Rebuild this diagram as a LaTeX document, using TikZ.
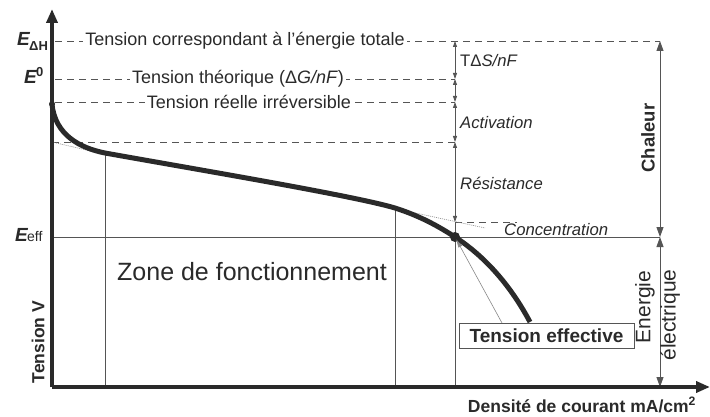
\documentclass[tikz,border=0pt]{standalone}
\usepackage{fontspec}
\setmainfont{Liberation Sans}
\usetikzlibrary{arrows.meta}
\definecolor{ink}{HTML}{2A2A2A}
\definecolor{lin}{HTML}{555555}
\definecolor{dotg}{HTML}{888888}
\begin{document}
\begin{tikzpicture}[x=1pt,y=-1pt,
  axisline/.style={line width=3.8pt, draw=ink, -{Triangle[length=14pt,width=11pt]}},
  dashline/.style={draw=lin, line width=0.9pt, dash pattern=on 7pt off 5pt},
  thinline/.style={draw=lin, line width=0.8pt},
  tangent/.style={draw=dotg, line width=0.6pt, dash pattern=on 1pt off 1pt},
  dimarrow/.style={draw=lin, line width=0.8pt, {Triangle[length=6pt,width=4pt]}-{Triangle[length=6pt,width=4pt]}},
  bigarrow/.style={draw=lin, line width=0.9pt, {Triangle[length=10pt,width=7pt]}-{Triangle[length=10pt,width=7pt]}},
  curveline/.style={draw=ink, line width=5pt},
  lbl/.style={text=ink, font=\fontsize{18}{20}\selectfont, fill=white, inner sep=2pt},
  ital/.style={text=ink, font=\fontsize{16.7}{19}\selectfont\itshape, inner sep=0pt, anchor=west},
  boldlbl/.style={text=ink, font=\fontsize{17.5}{20}\selectfont\bfseries, inner sep=0pt},
  elbl/.style={text=ink, font=\fontsize{19}{20}\selectfont\bfseries\itshape, inner sep=0pt, anchor=base east}
]
\useasboundingbox (0,0) rectangle (710,417);
\fill[white] (0,0) rectangle (710,417);

% coordinates
\coordinate (O) at (52,387);
\coordinate (ytop) at (52,9);
\coordinate (xend) at (710,387);
\coordinate (hL) at (55,41);   \coordinate (hR) at (660,41);
\coordinate (gL) at (55,79);   \coordinate (gR) at (455,79);
\coordinate (rL) at (55,102);  \coordinate (rR) at (455,102);
\coordinate (aL) at (52,142);  \coordinate (aR) at (455,142);
\coordinate (cL) at (455,222); \coordinate (cR) at (517,222);
\coordinate (eL) at (52,237);  \coordinate (eR) at (660,237);
\coordinate (op) at (455,237);
\coordinate (v1t) at (105,153); \coordinate (v1b) at (105,387);
\coordinate (v2t) at (395,208); \coordinate (v2b) at (395,387);
\coordinate (v3b) at (455,387);
\coordinate (hB) at (660,387);
\coordinate (start) at (52,104);

% thin structure lines
\draw[thinline] (eL) -- (eR);
\draw[thinline] (v1t) -- (v1b);
\draw[thinline] (v2t) -- (v2b);
\draw[thinline] (cL) -- (v3b);

% dashed lines
\draw[dashline] (hL) -- (hR);
\draw[dashline] (gL) -- (gR);
\draw[dashline] (rL) -- (rR);
\draw[dashline] (aL) -- (aR);
\draw[dashline] (cL) -- (cR);

\node[lbl] (t1) at (245,41) {Tension correspondant à l'énergie totale};
\node[lbl] (t2) at (238,79) {Tension théorique (Δ\textit{G/nF})};
\node[lbl] (t3) at (249,102) {Tension réelle irréversible};

% dimension arrows
\draw[dimarrow] (hR -| gR) -- (gR);
\draw[dimarrow] (gR) -- (rR);
\draw[dimarrow] (rR) -- (aR);
\draw[dimarrow] (aR) -- (cL);

\node[ital] (l1) at (460,61) {\upshape TΔ\itshape S/nF};
\node[ital] (l2) at (460,123) {Activation};
\node[ital] (l3) at (460,183) {Résistance};
\node[ital] (l4) at (504,230) {Concentration};

% big arrows
\draw[bigarrow] (hR) -- (eR);
\draw[bigarrow] (eR) -- (hB);

% tangents
\draw[tangent] (aL) -- (95,152);
\draw[tangent] (397,209) -- (485,228);

% curve
\draw[curveline] (start) .. controls (55,135) and (80,148) .. (v1t)
  .. controls (200,170) and (355,196) .. (v2t)
  .. controls (420,216) and (438,226) .. (op)
  .. controls (475,250) and (505,275) .. (530,322);
\fill[ink] (start) circle (3pt);
\fill[ink] (op) circle (5pt);

% axes
\draw[axisline] (O) -- (ytop);
\draw[axisline] (O) -- (xend);

% Tension effective box + pointer
\node[draw=lin, line width=0.8pt, text=ink, font=\fontsize{19}{21}\selectfont\bfseries, minimum width=175pt, minimum height=25pt, inner sep=0pt] (te) at (546.5,335.5) {Tension effective};
\coordinate (tep) at (502,323);
\draw[draw=dotg, line width=0.6pt, -{Triangle[length=8pt,width=4pt]}, shorten >=3pt] (tep) -- (op);

% zone
\node[text=ink, font=\fontsize{25}{28}\selectfont] (zone) at (252,272) {Zone de fonctionnement};

% axis labels
\node[boldlbl, rotate=90] (tv) at (38,342) {Tension V};
\node[boldlbl, anchor=base] (dc) at (582,412) {Densité de courant mA/cm\textsuperscript{2}};
\node[boldlbl, font=\fontsize{18.5}{20}\selectfont\bfseries, rotate=90] (ch) at (648,138) {Chaleur};
\node[text=ink, font=\fontsize{21}{22}\selectfont, rotate=90, inner sep=0pt] (en) at (645,307) {Energie};
\node[text=ink, font=\fontsize{21}{22}\selectfont, rotate=90, inner sep=0pt] (el) at (670,315) {électrique};

% E labels
\node[elbl] (edh) at (30,46) {E};
\node[text=ink, font=\fontsize{13}{13}\selectfont\bfseries, anchor=base west, inner sep=0pt] (edhs) at (29,51) {ΔH};
\node[elbl] (e0) at (37,84) {E};
\node[text=ink, font=\fontsize{13}{13}\selectfont\bfseries, anchor=base west, inner sep=0pt] (e0s) at (36,77) {0};
\node[elbl] (eef) at (28,241) {E};
\node[text=ink, font=\fontsize{14}{14}\selectfont, anchor=base west, inner sep=0pt] (eefs) at (27,241) {eff};
\end{tikzpicture}
\end{document}
